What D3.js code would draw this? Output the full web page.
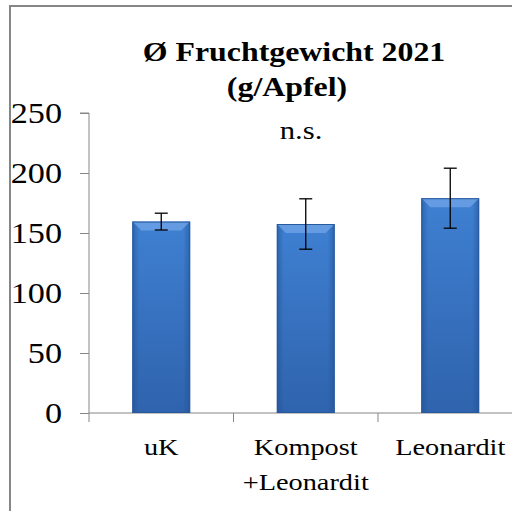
<!DOCTYPE html>
<html>
<head>
<meta charset="utf-8">
<script src="https://cdn.jsdelivr.net/npm/d3@7"></script>
<style>
  html, body { margin: 0; padding: 0; background: #fff; }
  svg { display: block; }
  svg text { font-family: "Liberation Serif", "Times New Roman", Times, "DejaVu Serif", serif; }
</style>
</head>
<body>
<svg></svg>
<script>
let categories = [["uK"], ["Kompost", "+Leonardit"], ["Leonardit"]];
let means = [159.5, 157.5, 179];
let errors = [7, 21, 25];
let yTicks = [0, 50, 100, 150, 200, 250];
let titleLines = ["Ø Fruchtgewicht 2021", "(g/Apfel)"];
let note = "n.s.";

let width = 512;
let height = 511;
let plotLeft = 89;
let plotRight = 522.5;
let plotTop = 113;
let plotBottom = 413;
let stretch = 1.18;
let axisColor = "#868686";

let svg = d3.select("svg").attr("width", width).attr("height", height);

let defs = svg.append("defs");
let grad = defs.append("linearGradient").attr("id", "barFill")
  .attr("x1", 0).attr("y1", 0).attr("x2", 0).attr("y2", 1);
grad.append("stop").attr("offset", "0%").attr("stop-color", "#3f80d2");
grad.append("stop").attr("offset", "100%").attr("stop-color", "#2f63ad");

let sideGrad = defs.append("linearGradient").attr("id", "barSide")
  .attr("x1", 0).attr("y1", 0).attr("x2", 1).attr("y2", 0);
sideGrad.append("stop").attr("offset", "0%").attr("stop-color", "#1f4f8f").attr("stop-opacity", 0.55);
sideGrad.append("stop").attr("offset", "12%").attr("stop-color", "#1f4f8f").attr("stop-opacity", 0);
sideGrad.append("stop").attr("offset", "88%").attr("stop-color", "#1f4f8f").attr("stop-opacity", 0);
sideGrad.append("stop").attr("offset", "100%").attr("stop-color", "#1f4f8f").attr("stop-opacity", 0.55);

// outer frame
svg.append("rect")
  .attr("x", 10).attr("y", 6)
  .attr("width", 540).attr("height", 540)
  .attr("fill", "#fff")
  .attr("stroke", axisColor)
  .attr("stroke-width", 2);

let xScale = d3.scaleBand()
  .domain(d3.range(categories.length))
  .range([plotLeft, plotRight])
  .paddingInner(0.6)
  .paddingOuter(0.3);

let yScale = d3.scaleLinear().domain([0, 250]).range([plotBottom, plotTop]);

let stretchedText = (g, x, y, str, size, weight, anchor) => {
  g.append("text")
    .attr("transform", "translate(" + x + "," + y + ") scale(" + stretch + ",1)")
    .attr("text-anchor", anchor || "middle")
    .style("font-size", size + "px")
    .style("font-weight", weight || "normal")
    .attr("fill", "#000")
    .text(str);
};

// y axis
let yAxis = d3.axisLeft(yScale).tickValues(yTicks).tickSize(9).tickFormat("");
let yg = svg.append("g").attr("transform", "translate(" + plotLeft + ",0)").call(yAxis);
yg.select(".domain").attr("stroke", axisColor).attr("d", "M-9," + plotTop + "H0V" + plotBottom);
yg.selectAll(".tick line").attr("stroke", axisColor);

let yLabels = svg.append("g");
yTicks.forEach(t => {
  stretchedText(yLabels, 62, yScale(t) + 10, t, 29, "normal", "end");
});

// x axis with category boundary ticks
let boundaries = d3.range(categories.length + 1).map(i => plotLeft + i * xScale.step());
let xg = svg.append("g");
xg.append("line")
  .attr("x1", plotLeft).attr("x2", plotRight)
  .attr("y1", plotBottom).attr("y2", plotBottom)
  .attr("stroke", axisColor).attr("stroke-width", 1);
xg.selectAll("line.tick")
  .data(boundaries)
  .enter()
  .append("line")
  .attr("class", "tick")
  .attr("x1", d => d).attr("x2", d => d)
  .attr("y1", plotBottom).attr("y2", plotBottom + 9)
  .attr("stroke", axisColor);

// bars
let bars = svg.append("g");
means.forEach((m, i) => {
  let x = xScale(i);
  let w = xScale.bandwidth();
  let y = yScale(m);
  let h = plotBottom - y;
  let g = bars.append("g");
  g.append("rect").attr("x", x).attr("y", y).attr("width", w).attr("height", h)
    .attr("fill", "url(#barFill)");
  g.append("rect").attr("x", x).attr("y", y).attr("width", w).attr("height", h)
    .attr("fill", "url(#barSide)");
  // top bevel
  g.append("path")
    .attr("d", "M" + x + "," + y + "H" + (x + w) + "L" + (x + w - 9) + "," + (y + 9) + "H" + (x + 9) + "Z")
    .attr("fill", "#6ea3e6").attr("opacity", 0.8);
  g.append("rect").attr("x", x + 0.5).attr("y", y + 0.5).attr("width", w - 1).attr("height", h - 1)
    .attr("fill", "none").attr("stroke", "#2a5a9e").attr("stroke-width", 1);
});

// error bars
let err = svg.append("g").attr("stroke", "#000").attr("stroke-width", 1.3);
means.forEach((m, i) => {
  let cx = xScale(i) + xScale.bandwidth() / 2;
  let y1 = yScale(m + errors[i]);
  let y2 = yScale(m - errors[i]);
  err.append("line").attr("x1", cx).attr("x2", cx).attr("y1", y1).attr("y2", y2);
  err.append("line").attr("x1", cx - 6.5).attr("x2", cx + 6.5).attr("y1", y1).attr("y2", y1);
  err.append("line").attr("x1", cx - 6.5).attr("x2", cx + 6.5).attr("y1", y2).attr("y2", y2);
});

// category labels
let labels = svg.append("g");
categories.forEach((lines, i) => {
  let cx = xScale(i) + xScale.bandwidth() / 2;
  lines.forEach((s, j) => {
    stretchedText(labels, cx, 455 + j * 35, s, 24);
  });
});

// title and note
let titles = svg.append("g");
stretchedText(titles, 294, 61, titleLines[0], 27, "bold");
stretchedText(titles, 287, 96, titleLines[1], 27, "bold");
stretchedText(titles, 301, 139, note, 26);
</script>
</body>
</html>
